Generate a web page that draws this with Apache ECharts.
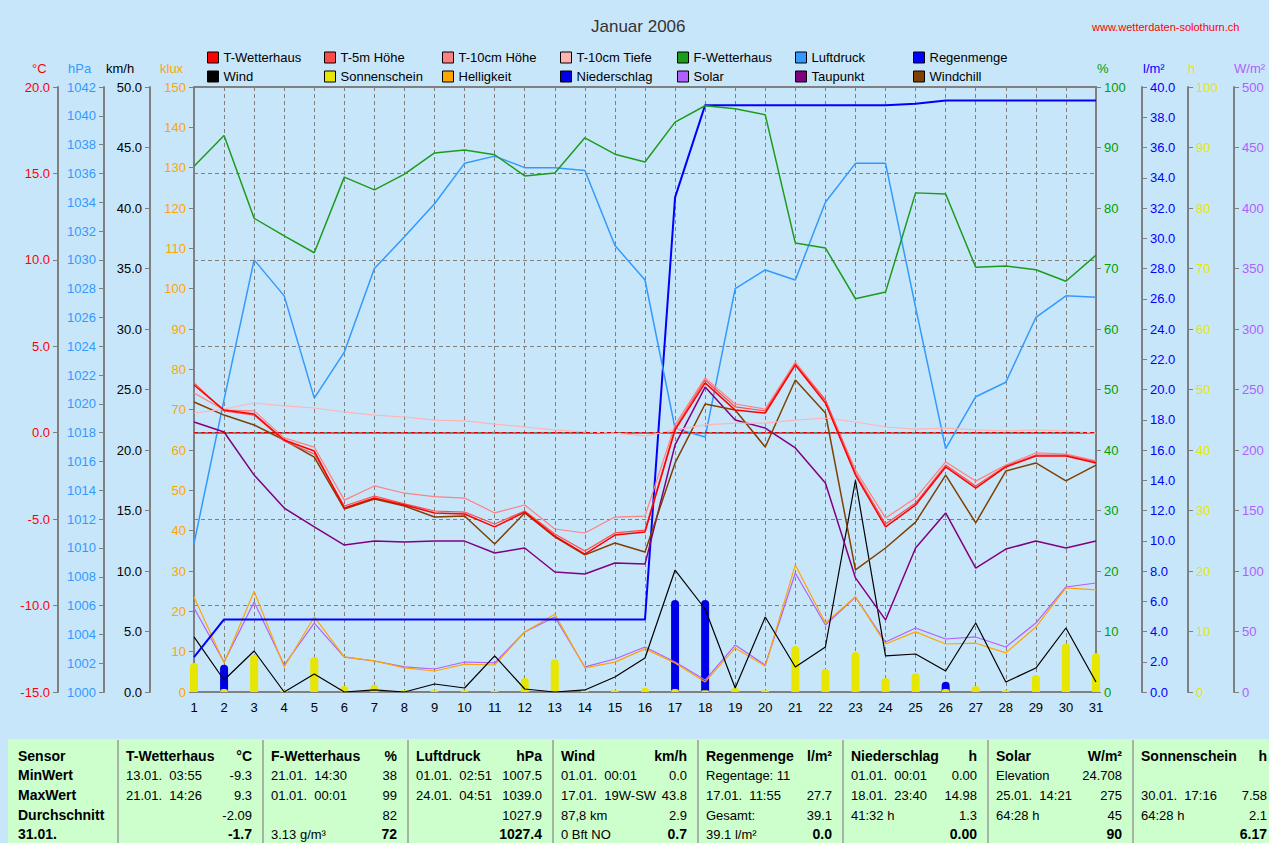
<!DOCTYPE html>
<html>
<head>
<meta charset="utf-8">
<title>Januar 2006</title>
<script src="https://cdn.jsdelivr.net/npm/echarts@6.0.0/dist/echarts.min.js"></script>
<style>
  html, body { margin: 0; padding: 0; background: #c8e6fa; }
  #main { width: 1269px; height: 843px; }
</style>
</head>
<body>
<div id="main"></div>
<script>
// Tage
var days = ['1','2','3','4','5','6','7','8','9','10','11','12','13','14','15','16',
            '17','18','19','20','21','22','23','24','25','26','27','28','29','30','31'];

// Temperaturen in °C
var tWetterhaus = [2.76, 1.31, 1.08, -0.42, -1.06, -4.36, -3.78, -4.18, -4.64, -4.70, -5.45, -4.59, -5.98, -7.02, -5.92, -5.74,
                   0.16, 2.88, 1.31, 1.14, 3.92, 1.72, -2.45, -5.45, -4.18, -1.98, -3.20, -1.98, -1.35, -1.35, -1.75];
var t5mHoehe = [2.88, 1.26, 1.02, -0.48, -1.23, -4.24, -3.66, -4.12, -4.53, -4.59, -5.28, -4.53, -5.86, -6.84, -5.80, -5.63,
                0.27, 3.05, 1.49, 1.26, 3.97, 1.89, -2.33, -5.28, -4.07, -1.87, -3.08, -1.93, -1.29, -1.29, -1.69];
var t10Hoehe = [2.30, 1.31, 1.26, -0.30, -0.83, -3.90, -3.08, -3.50, -3.70, -3.78, -4.64, -4.18, -5.57, -5.80, -4.88, -4.82,
                0.45, 3.17, 1.66, 1.37, 4.09, 1.90, -2.16, -4.93, -3.78, -1.69, -2.80, -1.87, -1.17, -1.23, -1.63];
var t10Tiefe = [1.14, 1.37, 1.72, 1.55, 1.43, 1.20, 1.02, 0.91, 0.73, 0.68, 0.50, 0.33, 0.16, 0.04, -0.02, -0.20,
                0.16, 0.45, 0.56, 0.56, 0.73, 0.85, 0.62, 0.33, 0.21, 0.27, 0.16, 0.10, 0.16, 0.10, -0.02];
var taupunkt = [0.62, 0.04, -2.45, -4.36, -5.45, -6.50, -6.27, -6.32, -6.27, -6.27, -6.96, -6.67, -8.06, -8.17, -7.54, -7.60,
                -0.70, 2.64, 0.73, 0.27, -0.88, -2.91, -8.40, -10.83, -6.67, -4.64, -7.83, -6.73, -6.27, -6.67, -6.27];
var windchill = [1.78, 1.02, 0.45, -0.42, -1.41, -4.41, -3.83, -4.24, -4.88, -4.82, -6.44, -4.64, -6.03, -7.07, -6.38, -6.90,
                 -1.75, 1.66, 1.31, -0.83, 3.05, 1.14, -7.94, -6.67, -5.17, -2.45, -5.22, -2.22, -1.75, -2.79, -1.87];

// Feuchte %, Luftdruck hPa
var fWetterhaus = [86.9, 92.0, 78.3, 75.4, 72.6, 85.1, 83.0, 85.6, 89.1, 89.6, 88.8, 85.3, 85.8, 91.6, 88.9, 87.6,
                   94.2, 96.9, 96.4, 95.4, 74.2, 73.4, 65.0, 66.1, 82.5, 82.3, 70.2, 70.4, 69.8, 67.9, 72.2];
var luftdruck = [1010.3, 1020.3, 1030.0, 1027.5, 1020.4, 1023.6, 1029.4, 1031.6, 1033.9, 1036.7, 1037.2, 1036.4, 1036.4, 1036.2, 1031.0, 1028.6,
                 1018.3, 1017.7, 1028.0, 1029.3, 1028.6, 1034.0, 1036.7, 1036.7, 1026.7, 1016.9, 1020.5, 1021.5, 1026.0, 1027.5, 1027.4];

// Regen l/m² (kumuliert), Wind km/h
var regenmenge = [2.3, 4.8, 4.8, 4.8, 4.8, 4.8, 4.8, 4.8, 4.8, 4.8, 4.8, 4.8, 4.8, 4.8, 4.8, 4.8,
                  32.7, 38.8, 38.8, 38.8, 38.8, 38.8, 38.8, 38.8, 38.9, 39.1, 39.1, 39.1, 39.1, 39.1, 39.1];
var wind = [4.55, 0.99, 3.39, 0.0, 1.49, 0.0, 0.17, 0.0, 0.66, 0.33, 2.98, 0.25, 0.0, 0.17, 1.24, 2.81,
            10.08, 6.86, 0.33, 6.20, 2.07, 3.72, 17.5, 2.98, 3.14, 1.74, 5.70, 0.83, 1.98, 5.29, 0.83];

// Helligkeit klux, Solar W/m²
var helligkeit = [23.6, 7.2, 25.0, 6.2, 18.6, 8.7, 7.7, 6.0, 5.2, 6.9, 6.7, 14.9, 19.3, 6.0, 7.4, 10.7,
                  7.2, 2.5, 10.9, 6.4, 31.5, 17.1, 23.6, 11.9, 14.9, 11.9, 12.1, 9.7, 16.1, 25.8, 25.3];
var solar = [69.4, 24.8, 74.4, 22.3, 57.0, 28.9, 25.6, 20.7, 19.0, 24.8, 24.0, 49.6, 62.0, 20.7, 27.3, 37.2,
             24.8, 9.9, 38.8, 22.3, 98.3, 55.4, 78.5, 41.3, 52.9, 43.8, 45.5, 37.2, 57.0, 86.8, 90.1];

// Stunden: Sonnenschein, Niederschlag
var sonnenschein = [4.8, 0.5, 6.1, 0.3, 5.8, 1.0, 1.2, 0.3, 0.3, 0.3, 0.2, 2.3, 5.4, 0.2, 0.3, 0.7,
                    0.5, 0.3, 0.7, 0.3, 7.6, 3.8, 6.6, 2.3, 3.1, 0.5, 1.0, 0.3, 2.8, 8.0, 6.4];
var niederschlag = [0, 4.5, 0, 0, 0, 0, 0, 0, 0, 0, 0, 0, 0, 0, 0, 0,
                    15.2, 15.2, 0, 0, 0, 0, 0, 0, 0, 1.7, 0, 0, 0, 0, 0];

// Tabelle unten
var tableHead = ['Sensor', 'MinWert', 'MaxWert', 'Durchschnitt', '31.01.'];
var tableCols = [
  ['T-Wetterhaus', '°C', [['13.01.\u00a0 03:55', '-9.3'], ['21.01.\u00a0 14:26', '9.3'], ['', '-2.09'], ['', '-1.7']]],
  ['F-Wetterhaus', '%', [['21.01.\u00a0 14:30', '38'], ['01.01.\u00a0 00:01', '99'], ['', '82'], ['3.13 g/m³', '72']]],
  ['Luftdruck', 'hPa', [['01.01.\u00a0 02:51', '1007.5'], ['24.01.\u00a0 04:51', '1039.0'], ['', '1027.9'], ['', '1027.4']]],
  ['Wind', 'km/h', [['01.01.\u00a0 00:01', '0.0'], ['17.01.\u00a0 19W-SW', '43.8'], ['87,8 km', '2.9'], ['0 Bft NO', '0.7']]],
  ['Regenmenge', 'l/m²', [['Regentage: 11', ''], ['17.01.\u00a0 11:55', '27.7'], ['Gesamt:', '39.1'], ['39.1 l/m²', '0.0']]],
  ['Niederschlag', 'h', [['01.01.\u00a0 00:01', '0.00'], ['18.01.\u00a0 23:40', '14.98'], ['41:32 h', '1.3'], ['', '0.00']]],
  ['Solar', 'W/m²', [['Elevation', '24.708'], ['25.01.\u00a0 14:21', '275'], ['64:28 h', '45'], ['', '90']]],
  ['Sonnenschein', 'h', [['', ''], ['30.01.\u00a0 17:16', '7.58'], ['64:28 h', '2.1'], ['', '6.17']]]
];

var legendCols = [
  ['T-Wetterhaus', 'Wind'], ['T-5m Höhe', 'Sonnenschein'], ['T-10cm Höhe', 'Helligkeit'],
  ['T-10cm Tiefe', 'Niederschlag'], ['F-Wetterhaus', 'Solar'], ['Luftdruck', 'Taupunkt'], ['Regenmenge', 'Windchill']
];

var font = '"Liberation Sans", Arial, sans-serif';
var gray = '#808080';

function yAx(pos, offset, min, max, interval, color, digits) {
  return {
    type: 'value', position: pos, offset: offset, min: min, max: max, interval: interval,
    axisLine: { show: true, onZero: false, lineStyle: { color: gray, width: 2 } },
    axisTick: { show: true, length: 5, lineStyle: { color: gray } },
    axisLabel: { color: color, fontSize: 13, fontFamily: font, margin: 8,
                 formatter: function (v) { return v.toFixed(digits); } },
    splitLine: { show: false }
  };
}

function line(name, data, axis, color, width) {
  return {
    name: name, type: 'line', data: data, yAxisIndex: axis,
    symbol: 'none', showSymbol: false, color: color,
    lineStyle: { color: color, width: width || 1.2 }
  };
}

var chart = echarts.init(document.getElementById('main'), null, { renderer: 'svg' });

var yAxes = [
  yAx('left', 136, -15, 20, 5, '#ff0000', 1),
  yAx('left', 90, 1000, 1042, 2, '#3399ff', 0),
  yAx('left', 44, 0, 50, 5, '#000000', 1),
  yAx('left', 0, 0, 150, 10, '#ffa500', 0),
  yAx('right', 0, 0, 100, 10, '#00a000', 0),
  yAx('right', 46, 0, 40, 2, '#0000ff', 1),
  yAx('right', 92, 0, 100, 10, '#e6e600', 0),
  yAx('right', 138, 0, 500, 50, '#b060ff', 0)
];
yAxes[0].splitLine = { show: true, lineStyle: { color: gray, type: [4, 3], width: 1 } };

var tiefe = line('T-10cm Tiefe', t10Tiefe, 0, '#ffb4b4');
tiefe.markLine = {
  silent: true, symbol: ['none', 'none'], label: { show: false },
  lineStyle: { color: '#e00000', type: [4, 3], width: 1 },
  data: [{ yAxis: 0 }]
};

var series = [
  { name: 'Niederschlag', type: 'bar', data: niederschlag, yAxisIndex: 6, barWidth: 8, barGap: '-100%',
    color: '#0000e8', itemStyle: { color: '#0000e8', borderRadius: [4, 4, 0, 0] } },
  { name: 'Sonnenschein', type: 'bar', data: sonnenschein, yAxisIndex: 6, barWidth: 8, barGap: '-100%',
    color: '#e6e600', itemStyle: { color: '#e6e600', borderRadius: [4, 4, 0, 0] } },
  line('Solar', solar, 7, '#b060ff'),
  line('Helligkeit', helligkeit, 3, '#ffa500'),
  line('Wind', wind, 2, '#000000'),
  line('Regenmenge', regenmenge, 5, '#0000ff', 2),
  line('Luftdruck', luftdruck, 1, '#3399ff', 1.5),
  line('F-Wetterhaus', fWetterhaus, 4, '#1c9c1c', 1.5),
  line('Taupunkt', taupunkt, 0, '#800080', 1.5),
  line('Windchill', windchill, 0, '#804000', 1.5),
  tiefe,
  line('T-10cm Höhe', t10Hoehe, 0, '#ff8080'),
  line('T-5m Höhe', t5mHoehe, 0, '#ff4a4a'),
  line('T-Wetterhaus', tWetterhaus, 0, '#ff0000', 1.5)
];

var legendX = [207, 324, 442, 560, 677, 795, 913];
var legends = legendCols.map(function (d, i) {
  return {
    data: d, orient: 'vertical', left: legendX[i], top: 51, padding: 0,
    itemWidth: 11, itemHeight: 11, itemGap: 6, icon: 'rect', selectedMode: false,
    itemStyle: { borderColor: '#000', borderWidth: 1 },
    textStyle: { color: '#000', fontSize: 13, fontFamily: font }
  };
});

// Einheiten über den Achsen, Webadresse, Tabelle
var graphics = [];
var units = [['°C', 32, '#ff0000'], ['hPa', 68, '#3399ff'], ['km/h', 106, '#000000'], ['klux', 160, '#ffa500'],
             ['%', 1097, '#00a000'], ['l/m²', 1143, '#0000ff'], ['h', 1188, '#e6e600'], ['W/m²', 1234, '#b060ff']];
units.forEach(function (u) {
  graphics.push({ type: 'text', x: u[1], y: 68, silent: true,
    style: { text: u[0], fill: u[2], fontSize: 13, fontFamily: font, verticalAlign: 'middle' } });
});
graphics.push({ type: 'text', x: 1092, y: 27, silent: true,
  style: { text: 'www.wetterdaten-solothurn.ch', fill: '#ff0000', fontSize: 11, fontFamily: font, verticalAlign: 'middle' } });

graphics.push({ type: 'rect', silent: true, shape: { x: 8, y: 739, width: 1261, height: 104 },
  style: { fill: '#ccffcc' } });
var sep = [118, 263, 408, 553, 698, 843, 988, 1133];
var rowY = [756, 775, 795, 815, 834];
sep.forEach(function (x) {
  graphics.push({ type: 'line', silent: true, shape: { x1: x, y1: 740, x2: x, y2: 843 },
    style: { stroke: '#9a9a9a', lineWidth: 1.5 } });
});
tableHead.forEach(function (t, r) {
  graphics.push({ type: 'text', x: 18, y: rowY[r], silent: true,
    style: { text: t, fill: '#000', fontSize: 14, fontWeight: 'bold', fontFamily: font, verticalAlign: 'middle' } });
});
tableCols.forEach(function (c, i) {
  var lx = sep[i] + 8, rx = sep[i] + 134;
  graphics.push({ type: 'text', x: lx, y: rowY[0], silent: true,
    style: { text: c[0], fill: '#000', fontSize: 14, fontWeight: 'bold', fontFamily: font, verticalAlign: 'middle' } });
  graphics.push({ type: 'text', x: rx, y: rowY[0], silent: true,
    style: { text: c[1], fill: '#000', fontSize: 14, fontWeight: 'bold', fontFamily: font, align: 'right', verticalAlign: 'middle' } });
  c[2].forEach(function (row, r) {
    var last = r === 3;
    if (row[0]) graphics.push({ type: 'text', x: lx, y: rowY[r + 1], silent: true,
      style: { text: row[0], fill: '#000', fontSize: 13, fontFamily: font, verticalAlign: 'middle' } });
    if (row[1]) graphics.push({ type: 'text', x: rx, y: rowY[r + 1], silent: true,
      style: { text: row[1], fill: '#000', fontSize: last ? 14 : 13, fontWeight: last ? 'bold' : 'normal',
               fontFamily: font, align: 'right', verticalAlign: 'middle' } });
  });
});

chart.setOption({
  animation: false,
  backgroundColor: 'transparent',
  title: { text: 'Januar 2006', left: 591, top: 18, padding: 0,
           textStyle: { fontSize: 17, fontWeight: 'normal', color: '#333', fontFamily: font } },
  legend: legends,
  grid: { left: 194, right: 173, top: 87, bottom: 151, containLabel: false, outerBoundsMode: 'none',
          show: true, borderColor: gray, borderWidth: 2, backgroundColor: 'transparent' },
  xAxis: {
    type: 'category', data: days, boundaryGap: false,
    axisLine: { lineStyle: { color: gray, width: 2 } },
    axisTick: { show: false },
    axisLabel: { color: '#000', fontSize: 13, fontFamily: font, margin: 9, interval: 0 },
    splitLine: { show: true, interval: 0, lineStyle: { color: gray, type: [4, 3], width: 1 } }
  },
  yAxis: yAxes,
  series: series,
  graphic: graphics
});
</script>
</body>
</html>
